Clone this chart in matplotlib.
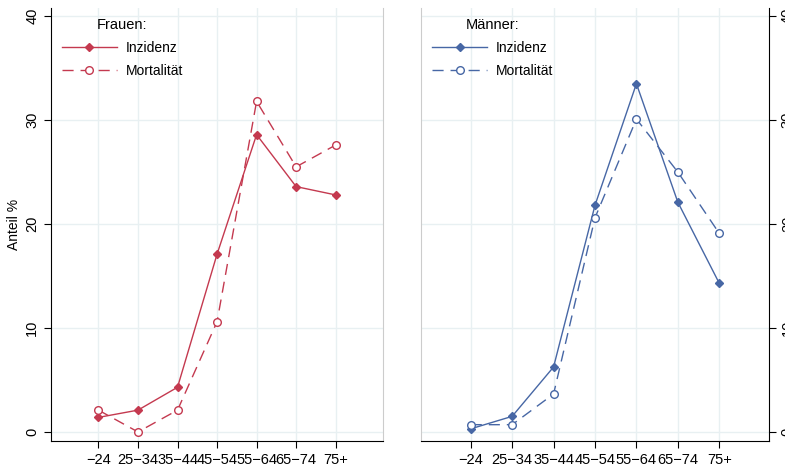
import matplotlib
matplotlib.use("Agg")
import matplotlib.pyplot as plt

categories = ["\u221224", "25\u221234", "35\u221244", "45\u221254", "55\u221264", "65\u221274", "75+"]
frauen_inzidenz = [1.4, 2.1, 4.3, 17.1, 28.6, 23.6, 22.8]
frauen_mortalitaet = [2.1, 0.0, 2.1, 10.6, 31.8, 25.5, 27.6]
maenner_inzidenz = [0.3, 1.5, 6.25, 21.8, 33.5, 22.1, 14.3]
maenner_mortalitaet = [0.7, 0.7, 3.65, 20.6, 30.1, 25.0, 19.1]
yticks = [0, 10, 20, 30, 40]

RED = "#C4394F"
BLUE = "#4767A5"
GRID = "#E8F0F2"

plt.rcParams['font.family'] = ['Liberation Sans', 'DejaVu Sans']

fig = plt.figure(figsize=(7.85, 4.69), dpi=100)
axL = fig.add_axes([0.065, 0.0597, 0.423, 0.923])
axR = fig.add_axes([0.5363, 0.0597, 0.4433, 0.923])

x = list(range(1, len(categories) + 1))

def style(ax, color, inz, mort, title, side):
    ax.plot(x, inz, color=color, lw=1.0, marker='D', markersize=4.0,
            markerfacecolor=color, markeredgecolor=color, label="Inzidenz")
    ax.plot(x, mort, color=color, lw=1.0, linestyle=(0, (8, 5)), marker='o',
            markersize=5.5, markerfacecolor='white', markeredgecolor=color,
            markeredgewidth=1.0, label="Mortalit\u00e4t")
    ax.set_xlim(1 - 1.2, 7 + 1.2)
    ax.set_ylim(-0.87, 40.77)
    ax.set_xticks(x)
    ax.set_xticklabels(categories, fontsize=10.5)
    ax.set_yticks(yticks)
    ax.set_yticklabels([str(v) for v in yticks], rotation=90, va='center', fontsize=10.5)
    ax.grid(True, color=GRID, lw=1.0)
    ax.set_axisbelow(True)
    ax.spines['top'].set_visible(False)
    ax.tick_params(axis='both', length=5, width=0.8, color='black')
    if side == 'left':
        ax.spines['right'].set_color('#CCCCCC')
        ax.spines['left'].set_color('black')
    else:
        ax.yaxis.tick_right()
        ax.spines['left'].set_color('#CCCCCC')
        ax.spines['right'].set_color('black')
    ax.spines['bottom'].set_color('black')
    leg = ax.legend(loc='upper left', frameon=False, title=title, fontsize=10,
                    title_fontsize=10.5, handlelength=4.0, borderaxespad=0.0,
                    bbox_to_anchor=(0.015, 0.99), labelspacing=0.65, handletextpad=0.6)
    return leg

style(axL, RED, frauen_inzidenz, frauen_mortalitaet, "Frauen:", 'left')
style(axR, BLUE, maenner_inzidenz, maenner_mortalitaet, "M\u00e4nner:", 'right')
axL.set_ylabel("Anteil %", fontsize=10, labelpad=3)

fig.savefig("out.png", dpi=100)
